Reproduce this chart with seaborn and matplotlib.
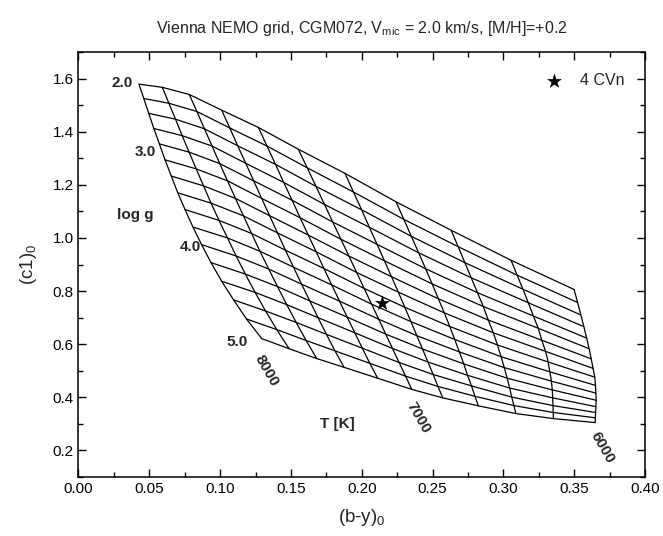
import matplotlib
matplotlib.use("Agg")
import matplotlib.pyplot as plt
from matplotlib.ticker import MultipleLocator
import numpy as np
import pandas as pd
import seaborn as sns

# Model grid: one (b-y)0 / (c1)0 column per effective temperature,
# listed from log g = 2.0 down to log g = 5.0 in steps of 0.2
teff = [8000, 7800, 7600, 7400, 7200, 7000, 6800, 6600, 6400, 6200, 6000]
logg = [2.0, 2.2, 2.4, 2.6, 2.8, 3.0, 3.2, 3.4, 3.6, 3.8, 4.0, 4.2, 4.4, 4.6, 4.8, 5.0]

by_8000 = [0.0427, 0.0461, 0.0496, 0.0532, 0.0571, 0.0611, 0.0655, 0.0701, 0.0752, 0.0808, 0.0869, 0.0936, 0.1011, 0.1095, 0.1186, 0.1294]
c1_8000 = [1.579, 1.525, 1.469, 1.412, 1.354, 1.294, 1.233, 1.170, 1.107, 1.041, 0.975, 0.907, 0.837, 0.767, 0.695, 0.621]
by_7800 = [0.0592, 0.0638, 0.0685, 0.0732, 0.0781, 0.0831, 0.0883, 0.0936, 0.0992, 0.1052, 0.1113, 0.1178, 0.1247, 0.1321, 0.1400, 0.1487]
c1_7800 = [1.567, 1.507, 1.447, 1.385, 1.323, 1.260, 1.196, 1.131, 1.066, 1.000, 0.932, 0.864, 0.795, 0.725, 0.655, 0.583]
by_7600 = [0.0782, 0.0836, 0.0889, 0.0943, 0.0997, 0.1052, 0.1108, 0.1165, 0.1222, 0.1281, 0.1343, 0.1405, 0.1470, 0.1537, 0.1607, 0.1682]
c1_7600 = [1.540, 1.476, 1.411, 1.346, 1.280, 1.215, 1.149, 1.083, 1.017, 0.950, 0.883, 0.817, 0.749, 0.682, 0.614, 0.546]
by_7400 = [0.1011, 0.1068, 0.1124, 0.1181, 0.1237, 0.1293, 0.1349, 0.1405, 0.1461, 0.1518, 0.1575, 0.1633, 0.1691, 0.1751, 0.1811, 0.1875]
c1_7400 = [1.481, 1.414, 1.347, 1.281, 1.215, 1.149, 1.084, 1.019, 0.954, 0.890, 0.826, 0.763, 0.700, 0.637, 0.575, 0.513]
by_7200 = [0.1270, 0.1331, 0.1391, 0.1449, 0.1508, 0.1565, 0.1622, 0.1678, 0.1733, 0.1788, 0.1843, 0.1897, 0.1951, 0.2004, 0.2057, 0.2112]
c1_7200 = [1.416, 1.346, 1.277, 1.209, 1.142, 1.076, 1.011, 0.948, 0.885, 0.823, 0.762, 0.702, 0.643, 0.585, 0.528, 0.472]
by_7000 = [0.1552, 0.1615, 0.1677, 0.1737, 0.1795, 0.1853, 0.1909, 0.1964, 0.2017, 0.2069, 0.2120, 0.2169, 0.2217, 0.2264, 0.2309, 0.2353]
c1_7000 = [1.334, 1.264, 1.194, 1.126, 1.060, 0.995, 0.932, 0.870, 0.810, 0.751, 0.694, 0.638, 0.584, 0.531, 0.480, 0.430]
by_6800 = [0.1882, 0.1941, 0.1999, 0.2054, 0.2108, 0.2160, 0.2210, 0.2258, 0.2304, 0.2347, 0.2389, 0.2429, 0.2467, 0.2504, 0.2538, 0.2572]
c1_6800 = [1.243, 1.173, 1.106, 1.040, 0.976, 0.914, 0.854, 0.796, 0.739, 0.685, 0.632, 0.582, 0.533, 0.486, 0.441, 0.398]
by_6600 = [0.2242, 0.2297, 0.2350, 0.2402, 0.2451, 0.2497, 0.2541, 0.2583, 0.2621, 0.2656, 0.2689, 0.2720, 0.2747, 0.2775, 0.2799, 0.2823]
c1_6600 = [1.136, 1.070, 1.006, 0.944, 0.884, 0.827, 0.771, 0.718, 0.667, 0.618, 0.571, 0.526, 0.483, 0.443, 0.404, 0.368]
by_6400 = [0.2631, 0.2681, 0.2728, 0.2773, 0.2817, 0.2858, 0.2893, 0.2929, 0.2958, 0.2984, 0.3006, 0.3027, 0.3044, 0.3059, 0.3074, 0.3088]
c1_6400 = [1.029, 0.967, 0.907, 0.850, 0.794, 0.742, 0.691, 0.643, 0.597, 0.553, 0.512, 0.472, 0.435, 0.401, 0.369, 0.339]
by_6200 = [0.3054, 0.3097, 0.3138, 0.3176, 0.3212, 0.3246, 0.3271, 0.3298, 0.3316, 0.3328, 0.3339, 0.3345, 0.3348, 0.3350, 0.3352, 0.3353]
c1_6200 = [0.916, 0.860, 0.807, 0.756, 0.706, 0.660, 0.615, 0.573, 0.533, 0.496, 0.461, 0.428, 0.398, 0.369, 0.343, 0.320]
by_6000 = [0.3499, 0.3524, 0.3547, 0.3568, 0.3588, 0.3605, 0.3620, 0.3633, 0.3645, 0.3650, 0.3653, 0.3655, 0.3653, 0.3651, 0.3649, 0.3648]
c1_6000 = [0.806, 0.757, 0.710, 0.666, 0.623, 0.583, 0.545, 0.509, 0.476, 0.445, 0.416, 0.389, 0.365, 0.343, 0.323, 0.305]

by_cols = [by_8000, by_7800, by_7600, by_7400, by_7200, by_7000,
           by_6800, by_6600, by_6400, by_6200, by_6000]
c1_cols = [c1_8000, c1_7800, c1_7600, c1_7400, c1_7200, c1_7000,
           c1_6800, c1_6600, c1_6400, c1_6200, c1_6000]

# Observed star
star_name = "4 CVn"
star_by = [0.214]
star_c1 = [0.757]

# Grid annotations
logg_labels = ["2.0", "3.0", "4.0", "5.0"]
logg_label_x = [0.0307, 0.0470, 0.0787, 0.1119]
logg_label_y = [1.584, 1.323, 0.966, 0.608]
teff_labels = ["8000", "7000", "6000"]
teff_label_x = [0.1325, 0.2400, 0.3700]
teff_label_y = [0.500, 0.322, 0.212]

rows = []
for t, bys, c1s in zip(teff, by_cols, c1_cols):
    for g, b, c in zip(logg, bys, c1s):
        rows.append({"Teff": t, "logg": g, "by": b, "c1": c})
grid = pd.DataFrame(rows)

sns.set_theme(style="ticks")
plt.rcParams["font.family"] = ["Liberation Sans", "DejaVu Sans"]
plt.rcParams["mathtext.fontset"] = "custom"
plt.rcParams["mathtext.rm"] = "Liberation Sans"
plt.rcParams["mathtext.it"] = "Liberation Sans"

fig = plt.figure(figsize=(6.63, 5.36), dpi=100)
ax = fig.add_axes([0.1184, 0.110, 0.8545, 0.793])

# iso-temperature lines
sns.lineplot(data=grid, x="by", y="c1", units="Teff", estimator=None,
             sort=False, color="black", linewidth=0.9, ax=ax, legend=False)
# iso-gravity lines
sns.lineplot(data=grid.sort_values(["logg", "Teff"], ascending=[True, False]),
             x="by", y="c1", units="logg", estimator=None, sort=False,
             color="black", linewidth=0.9, ax=ax, legend=False)

star = pd.DataFrame({"by": star_by, "c1": star_c1, "name": [star_name]})
sns.scatterplot(data=star, x="by", y="c1", marker="*", s=110, color="black",
                edgecolor="black", linewidth=0.3, ax=ax, label=star_name, zorder=5)

for txt, x, y in zip(logg_labels, logg_label_x, logg_label_y):
    ax.text(x, y, txt, fontsize=11, fontweight="bold", ha="center", va="center")
ax.text(0.0399, 1.086, "log g", fontsize=11, fontweight="bold", ha="center", va="center")
for txt, x, y in zip(teff_labels, teff_label_x, teff_label_y):
    ax.text(x, y, txt, fontsize=11, fontweight="bold", ha="center", va="center",
            rotation=-60, rotation_mode="anchor")
ax.text(0.1826, 0.299, "T [K]", fontsize=11, fontweight="bold", ha="center", va="center")

ax.set_xlim(0.0, 0.4)
ax.set_ylim(0.1, 1.7)
ax.xaxis.set_minor_locator(MultipleLocator(0.025))
ax.yaxis.set_minor_locator(MultipleLocator(0.1))
ax.set_xticks(np.arange(0, 0.401, 0.05))
ax.set_xticklabels([f"{v:.2f}" for v in np.arange(0, 0.401, 0.05)])
ax.set_yticks(np.arange(0.2, 1.61, 0.2))
ax.set_yticklabels([f"{v:.1f}" for v in np.arange(0.2, 1.61, 0.2)])
ax.tick_params(which="both", direction="in", top=True, right=True,
               labelsize=11, width=1.0, color="black", labelcolor="black")
ax.tick_params(which="major", length=6)
ax.tick_params(which="minor", length=3.5)
for s in ax.spines.values():
    s.set_linewidth(1.1)
    s.set_color("black")

ax.set_xlabel("(b-y)$_0$", fontsize=13.5, labelpad=8)
ax.set_ylabel("(c1)$_0$", fontsize=13.5, labelpad=10)
ax.set_title("Vienna NEMO grid, CGM072, V$_{\\rm mic}$ = 2.0 km/s, [M/H]=+0.2",
             fontsize=11.5, pad=14)

ax.legend(loc="upper right", frameon=False, fontsize=11.5, handletextpad=0.6,
          borderaxespad=0.9, markerscale=1.0)

fig.savefig("out.png", dpi=100, facecolor="white")
